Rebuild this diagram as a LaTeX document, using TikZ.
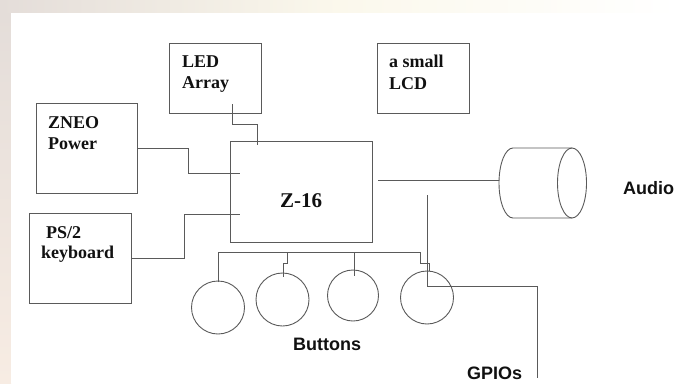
\documentclass[tikz,border=0pt]{standalone}
\usepackage{fontspec}
\setmainfont{Liberation Serif}[BoldFont={Liberation Serif Bold}]
\newfontfamily\labelfont{Liberation Sans}[BoldFont={Liberation Sans Bold}]

\definecolor{wire}{HTML}{5A5A5A}
\definecolor{edgeA}{HTML}{E4DDD9}
\definecolor{edgeB}{HTML}{FBF8EC}
\definecolor{edgeC}{HTML}{F7ECE3}
\definecolor{ink}{HTML}{111111}

\tikzset{
  block/.style={draw=wire, line width=0.9pt, inner sep=0pt},
  button/.style={circle, draw=wire, line width=0.9pt, inner sep=0pt},
  boxtext/.style={anchor=base west, inner sep=0pt, font=\bfseries\fontsize{18}{22}\selectfont, text=ink},
  caption/.style={anchor=base west, inner sep=0pt, font=\labelfont\bfseries\fontsize{18}{22}\selectfont, text=ink},
  link/.style={draw=wire, line width=0.9pt},
}

\begin{document}
\begin{tikzpicture}[x=1pt,y=-1pt]
\useasboundingbox (0,0) rectangle (677,383);

% page backdrop and white sheet
\shade[left color=edgeA, right color=white, middle color=edgeB] (0,0) rectangle (677,13);
\shade[top color=edgeA, bottom color=edgeC] (0,13) rectangle (11,383);
\fill[white] (11,13) rectangle (677,383);

% blocks
\node[block, minimum width=92pt, minimum height=70pt] (led) at (215,78) {};
\node[block, minimum width=92pt, minimum height=70pt] (lcd) at (423,78) {};
\node[block, minimum width=101pt, minimum height=90pt] (zneo) at (86.5,148) {};
\node[block, minimum width=102pt, minimum height=90pt] (ps2) at (80,258) {};
\node[block, minimum width=142pt, minimum height=101pt] (z16) at (301,191.5) {};

% block texts
\node[boxtext] (ledA) at (182,67) {LED};
\node[boxtext] (ledB) at (182,88) {Array};
\node[boxtext] (lcdA) at (389,67) {a small};
\node[boxtext] (lcdB) at (389,89) {LCD};
\node[boxtext] (zneoA) at (48,128) {ZNEO};
\node[boxtext] (zneoB) at (48,149) {Power};
\node[boxtext] (ps2A) at (46,238) {PS/2};
\node[boxtext] (ps2B) at (41,258) {keyboard};
\node[boxtext, font=\bfseries\fontsize{21}{25}\selectfont] (z16t) at (280,207) {Z-16};

% speaker: a lying cylinder, open end on the left
\node[inner sep=0pt, minimum width=87.5pt, minimum height=70pt] (spk) at (542.75,183) {};
\draw[link] (572,148) -- (513,148)
  arc[start angle=270, end angle=90, x radius=14, y radius=35]
  -- (572,218);
\draw[link] (572,183) ellipse[x radius=14.5, y radius=35];

% buttons
\node[button, minimum size=53pt] (b1) at (218,307.5) {};
\node[button, minimum size=53pt] (b2) at (282.5,299.5) {};
\node[button, minimum size=51pt] (b3) at (353,295.5) {};
\node[button, minimum size=53pt] (b4) at (427,297.5) {};

% captions
\node[caption] (audio) at (623,194) {Audio};
\node[caption] (buttons) at (293,350) {Buttons};
\node[caption] (gpios) at (467,379.5) {GPIOs};

% pin points
\coordinate (ledpin) at (232,104);
\coordinate (zinA) at (257,145);
\coordinate (zinB) at (240,173);
\coordinate (zinC) at (240,214);
\coordinate (zout) at (378,180);
\coordinate (gpioA) at (427,195);
\coordinate (gpioB) at (537,378);

% connectors
\draw[link] (ledpin) -- (232,124) -- (257,124) -- (zinA);
\draw[link] (zneo.east) -- (188,148) -- (188,173) -- (zinB);
\draw[link] (ps2.east) -- (184,258) -- (184,214) -- (zinC);
\draw[link] (zout) -- (zout -| spk.west);

% button bus
\draw[link] (218,282) -- (218,252) -- (420,252) -- (420,263) -- (429,263) -- (429,271);
\draw[link] (287,252) -- (287,263) -- (283,263) -- (283,277);
\draw[link] (354,252) -- (354,276);

% GPIO line
\draw[link] (gpioA) -- (427,286) -- (537,286) -- (gpioB);
\end{tikzpicture}
\end{document}
